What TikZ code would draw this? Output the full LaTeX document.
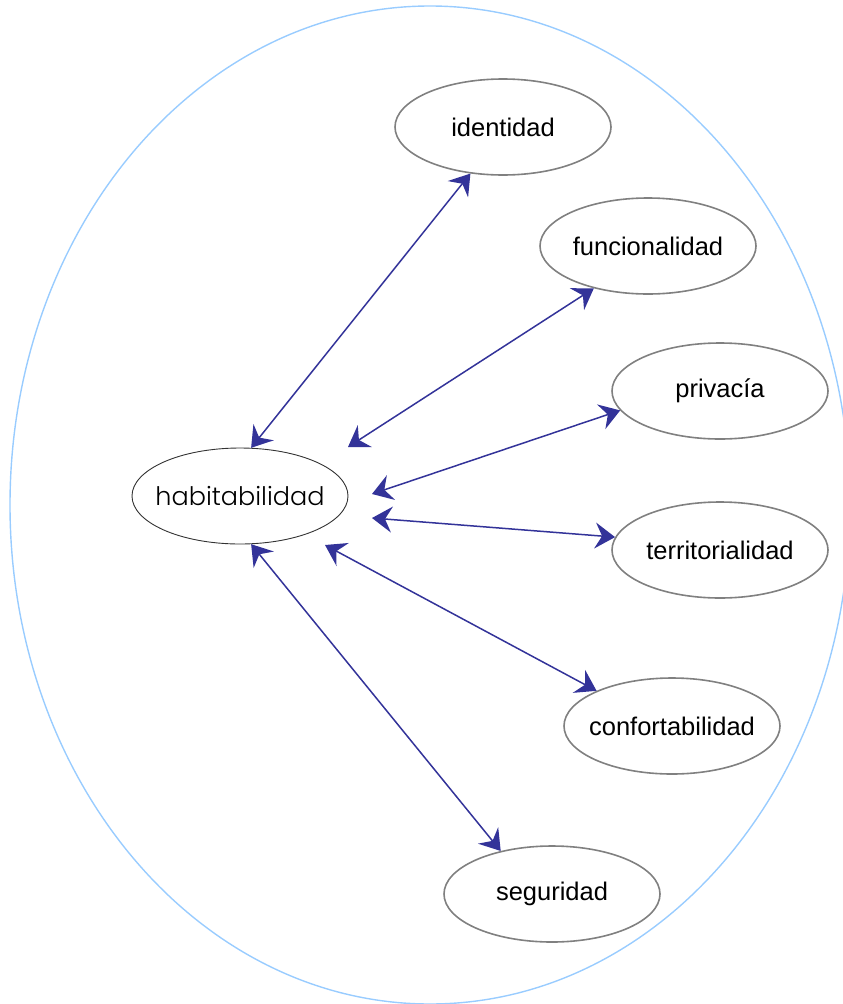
\documentclass[tikz,border=0pt]{standalone}
\usepackage{fontspec}
\setmainfont{Liberation Sans}
\newfontfamily\handfont{Poppins Light}
\usetikzlibrary{shapes.geometric,arrows.meta}
\definecolor{arrowblue}{HTML}{333399}
\definecolor{outerblue}{HTML}{99CCFF}
\definecolor{nodegray}{HTML}{808080}
\tikzset{
  concept/.style={ellipse, draw=nodegray, line width=1.6pt, minimum width=216pt, minimum height=96pt, inner xsep=-30pt, inner ysep=0pt, font=\fontsize{25.5}{30}\selectfont},
  hub/.style={ellipse, draw=black!80, line width=0.9pt, minimum width=216pt, minimum height=96pt, inner xsep=-30pt, inner ysep=0pt, font=\handfont\fontsize{25.5}{30}\selectfont},
  link/.style={draw=arrowblue, line width=1.5pt, {Stealth[length=20pt,width=26pt,inset=7pt]}-{Stealth[length=20pt,width=26pt,inset=7pt]}}
}
\begin{document}
\begin{tikzpicture}[x=1pt,y=-1pt]
\useasboundingbox (0,0) rectangle (843,1004);
\draw[outerblue, line width=1.4pt] (430,505) ellipse [x radius=420, y radius=499];
\node[hub] (hab) at (240,496) {habitabilidad};
\node[concept] (ide) at (503,127) {identidad};
\node[concept] (fun) at (648,246) {funcionalidad};
\node[concept] (pri) at (720,391) {privacía};
\node[concept] (ter) at (720,550) {territorialidad};
\node[concept] (con) at (672,726) {confortabilidad};
\node[concept] (seg) at (552,894) {seguridad};
\coordinate (h2) at (348,447);
\coordinate (h3) at (372,494);
\coordinate (h4) at (372,518);
\coordinate (h5) at (325,545);
\draw[link] (hab.77) -- (ide.235);
\draw[link] (h2) -- (fun.218);
\draw[link] (h3) -- (pri.191);
\draw[link] (h4) -- (ter.173);
\draw[link] (h5) -- (con.155);
\draw[link] (hab.283) -- (seg.140);
\end{tikzpicture}
\end{document}
